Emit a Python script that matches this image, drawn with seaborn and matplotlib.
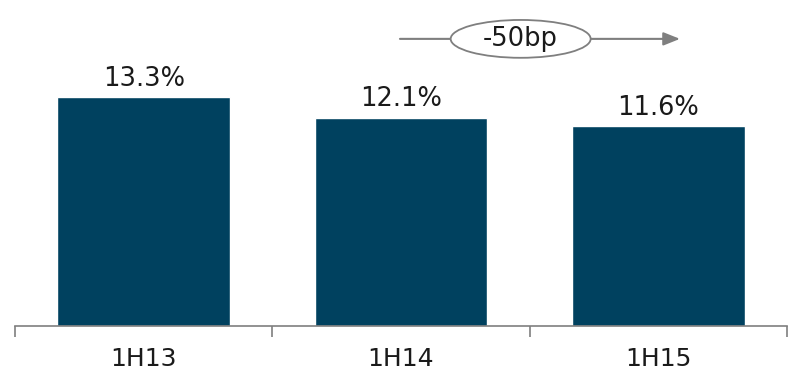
import matplotlib
matplotlib.use("Agg")
import matplotlib.pyplot as plt
from matplotlib.patches import Ellipse
import seaborn as sns

# data
periods = ["1H13", "1H14", "1H15"]
ratios = [13.3, 12.1, 11.6]
labels = ["13.3%", "12.1%", "11.6%"]
change_label = "-50bp"

bar_color = "#00415F"
grey = "#7F7F7F"

sns.set_style("white")
plt.rcParams["font.family"] = ["DejaVu Sans"]

fig = plt.figure(figsize=(7.88, 3.83), dpi=100)
ax = fig.add_axes([15 / 788, 57 / 383, 772 / 788, 326 / 383])

sns.barplot(x=periods, y=ratios, color=bar_color, width=0.67, saturation=1, ax=ax)
ax.set_xlim(-0.5, 2.5)
ax.set_ylim(0, 18.95)

ax.bar_label(ax.containers[0], labels=labels, padding=4, fontsize=18.5, color="#1A1A1A")

# axis styling
for side in ["top", "right", "left"]:
    ax.spines[side].set_visible(False)
ax.spines["bottom"].set_color(grey)
ax.spines["bottom"].set_linewidth(1.2)
ax.set_yticks([])
ax.set_xticks([-0.5, 0.5, 1.5, 2.5], minor=True)
ax.tick_params(axis="x", which="minor", bottom=True, length=8, width=1.2, color=grey, direction="out")
ax.tick_params(axis="x", which="major", bottom=True, length=0, pad=15, labelsize=18, labelcolor="#1A1A1A")
ax.set_xlabel("")
ax.set_ylabel("")

# change annotation arrow with ellipse
ax.annotate("", xy=(2.084, 16.69), xytext=(0.996, 16.69),
            arrowprops=dict(arrowstyle="-|>,head_length=1.0,head_width=0.4",
                            color=grey, lw=1.5, shrinkA=0, shrinkB=0),
            annotation_clip=False)
ell = Ellipse((1.465, 16.69), 0.544, 2.2, facecolor="white", edgecolor=grey, lw=1.3, clip_on=False, zorder=5)
ax.add_patch(ell)
ax.text(1.465, 16.69, change_label, ha="center", va="center", fontsize=18.5, color="#1A1A1A", zorder=6)

fig.savefig("out.png", dpi=100)
